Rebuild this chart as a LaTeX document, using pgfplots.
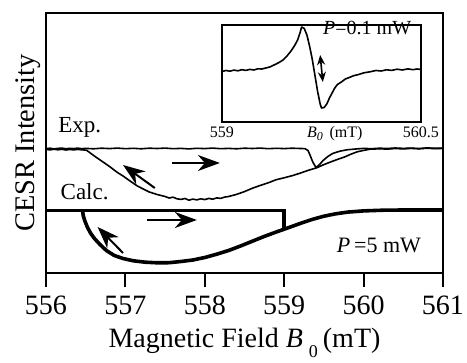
\documentclass[border=0pt]{standalone}
\usepackage{fontspec}
\setmainfont{Liberation Serif}
\usepackage{pgfplots}
\pgfplotsset{compat=1.18}
\usetikzlibrary{arrows.meta}

\begin{document}
\begin{tikzpicture}
\useasboundingbox (-23pt,-45pt) rectangle (210.5pt,136.5pt);
\begin{axis}[
  scale only axis, width=198.5pt, height=130pt,
  xmin=556, xmax=561, ymin=0, ymax=260,
  axis line style={line width=1pt},
  xtick={556,557,558,559,560,561}, ytick=\empty,
  tick align=outside, major tick length=7pt,
  xtick pos=bottom,
  every tick/.style={line width=1pt, black},
  /pgf/number format/assume math mode=true,
  /pgf/number format/1000 sep={},
  xticklabel style={font=\fontsize{14}{14}\selectfont, yshift=-1pt},
  xlabel={Magnetic Field \textit{B}\hspace{3pt}\raisebox{-5pt}{\fontsize{9}{9}\selectfont 0}\hspace{2.5pt}(mT)},
  xlabel style={font=\fontsize{14}{14}\selectfont, at={(axis description cs:0.5,0)}, anchor=base, yshift=-37.5pt},
  ylabel={CESR Intensity},
  ylabel style={font=\fontsize{14.2}{14.2}\selectfont, at={(axis description cs:-0.028,0.5)}, anchor=base},
  clip=false,
]
% Exp. forward sweep
\addplot[black, line width=0.8pt, line join=round] coordinates {
(556.00,124.3) (556.05,124.8) (556.10,124.1) (556.15,124.6) (556.20,124.9) (556.25,124.2) (556.30,124.7) (556.35,124.4) (556.40,124.9) (556.45,124.3) (556.50,124.6) (556.60,124.2) (556.70,124.8) (556.80,124.4) (556.90,124.9) (557.00,124.3) (557.10,124.7) (557.20,124.2) (557.30,124.8) (557.40,124.5) (557.50,124.9) (557.60,124.3) (557.70,124.6) (557.80,124.1) (557.90,124.7) (558.00,124.4) (558.10,124.9) (558.20,124.3) (558.30,124.6) (558.40,124.2) (558.50,124.8) (558.60,124.5) (558.70,124.9) (558.80,124.3) (558.90,124.7) (559.00,124.4) (559.10,124.8) (559.20,124.5) (559.26,124.4) (559.30,122.5) (559.33,117) (559.36,111) (559.40,105.5) (559.44,108) (559.49,112.5) (559.55,116.5) (559.61,119.5) (559.70,121.8) (559.79,123.2) (559.90,124.0) (560.00,124.6) (560.10,124.3) (560.20,124.8) (560.30,124.5) (560.40,125.0) (560.50,124.6) (560.60,124.9) (560.70,124.4) (560.80,125.1) (560.90,124.7) (561.00,124.9)
};
% Exp. backward sweep
\addplot[black, line width=0.8pt, line join=round] coordinates {
(556.00,123.6) (556.05,123.1) (556.10,123.8) (556.15,123.2) (556.20,123.7) (556.25,123.0) (556.30,123.5) (556.35,123.1) (556.40,123.6) (556.45,123.2) (556.51,122.8) (556.60,117.5) (556.70,112) (556.80,106.5) (556.90,100.5) (556.97,97) (557.05,92.5) (557.15,87) (557.25,83) (557.30,81) (557.40,78.5) (557.50,76.5) (557.55,75) (557.60,75.8) (557.65,74.2) (557.70,73.6) (557.75,74.5) (557.80,72.8) (557.85,73.9) (557.90,73.1) (557.95,74.2) (558.00,73.4) (558.05,74.6) (558.10,73.8) (558.15,75.1) (558.20,74.6) (558.25,75.9) (558.30,76.5) (558.40,78.6) (558.50,81.4) (558.60,84.8) (558.70,87.6) (558.80,90.2) (558.90,93.3) (559.00,95.2) (559.10,97.3) (559.20,99.8) (559.30,102.6) (559.41,105.2) (559.50,108.4) (559.60,111.5) (559.70,114.4) (559.76,116) (559.84,118.8) (559.92,121.2) (560.00,122.6) (560.08,123.8) (560.20,124.2) (560.30,123.9) (560.40,124.5) (560.50,124.1) (560.60,124.6) (560.70,124.2) (560.80,124.8) (560.90,124.3) (561.00,124.6)
};
% Calc. forward sweep
\addplot[black, line width=1.8pt, line join=miter] coordinates {
(556.00,62.5) (559.00,62.5) (559.00,43)
};
% Calc. backward sweep
\addplot[black, line width=1.8pt, line join=round] coordinates {
(556.46,62.5) (556.47,57) (556.49,52) (556.52,46) (556.56,40) (556.61,34.5) (556.68,28.5) (556.76,22.5) (556.86,17.5) (556.97,14.5) (557.10,12.2) (557.25,10.8) (557.40,10.2) (557.55,10.3) (557.70,11.5) (557.85,13) (558.00,15.5) (558.15,18.8) (558.30,22.5) (558.45,27) (558.60,31.8) (558.75,36.6) (558.90,41) (559.05,45.2) (559.20,49.5) (559.35,53.5) (559.50,56.8) (559.65,59.2) (559.80,60.9) (560.00,62.1) (560.25,62.8) (560.50,63) (561.00,63)
};
% arrows
\draw[line width=1pt, -{Stealth[length=11pt,width=8pt,inset=3.5pt]}] (axis cs:557.59,110) -- (axis cs:558.19,110);
\draw[line width=1pt, -{Stealth[length=11pt,width=8pt,inset=3.5pt]}] (axis cs:557.37,85) -- (axis cs:556.97,108);
\draw[line width=1pt, -{Stealth[length=11pt,width=8pt,inset=3.5pt]}] (axis cs:557.27,53) -- (axis cs:557.90,53);
\draw[line width=1pt, -{Stealth[length=11pt,width=8pt,inset=3.5pt]}] (axis cs:556.97,20) -- (axis cs:556.65,46);
% labels
\node[anchor=base west, inner sep=0pt, font=\fontsize{11.5}{12}\selectfont] at (axis cs:556.15,140) {Exp.};
\node[anchor=base west, inner sep=0pt, font=\fontsize{11.5}{12}\selectfont] at (axis cs:556.18,73) {Calc.};
\node[anchor=base west, inner sep=0pt, font=\fontsize{11}{11}\selectfont] at (axis cs:559.66,20) {\textit{P}\,=5 mW};
\end{axis}

\begin{axis}[
  at={(88pt,75.5pt)}, anchor=south west,
  scale only axis, width=99.5pt, height=48.5pt,
  xmin=559, xmax=560.5, ymin=0, ymax=97,
  xtick={559,560.5}, xticklabels={559,560.5}, ytick=\empty,
  major tick length=0pt,
  xticklabel style={font=\fontsize{8}{8}\selectfont, anchor=base, yshift=-8pt},
  axis line style={line width=0.8pt},
  axis background/.style={fill=white},
  clip=false,
]
\addplot[black, line width=0.8pt, line join=round] coordinates {
(559.00,50.5) (559.03,51.5) (559.06,50.8) (559.09,51.9) (559.12,51.2) (559.15,52.3) (559.18,51.6) (559.21,52.6) (559.24,52.0) (559.27,53.2) (559.30,53.0) (559.33,54.0) (559.36,55.0) (559.40,57.5) (559.43,59.5) (559.46,62) (559.49,66) (559.52,71) (559.55,77) (559.57,82) (559.59,90) (559.60,95) (559.62,93.5) (559.64,87) (559.66,76) (559.68,63) (559.70,47) (559.72,31) (559.74,18) (559.75,14) (559.77,14.5) (559.79,18) (559.81,24) (559.83,29) (559.85,34) (559.87,37.5) (559.90,40) (559.93,43) (559.96,44.5) (559.99,46.2) (560.03,47.5) (560.07,49.2) (560.12,50.3) (560.16,51.5) (560.20,51.0) (560.24,52.2) (560.28,51.6) (560.32,52.8) (560.36,52.0) (560.40,53.1) (560.44,52.3) (560.47,53.0) (560.50,52.5)
};
\draw[line width=0.8pt, {Stealth[length=5pt,width=4pt]}-{Stealth[length=5pt,width=4pt]}] (axis cs:559.74,67) -- (axis cs:559.76,40);
\node[anchor=base west, inner sep=0pt, font=\fontsize{10}{10}\selectfont] at (axis cs:559.76,87) {\textit{P}=0.1 mW};
\node[anchor=base, inner sep=0pt, font=\fontsize{8}{8}\selectfont] at (axis cs:559.85,0) [yshift=-8pt] {\textit{B\raisebox{-0.4ex}{\fontsize{6}{6}\selectfont 0}}\, (mT)};
\end{axis}
\end{tikzpicture}
\end{document}
